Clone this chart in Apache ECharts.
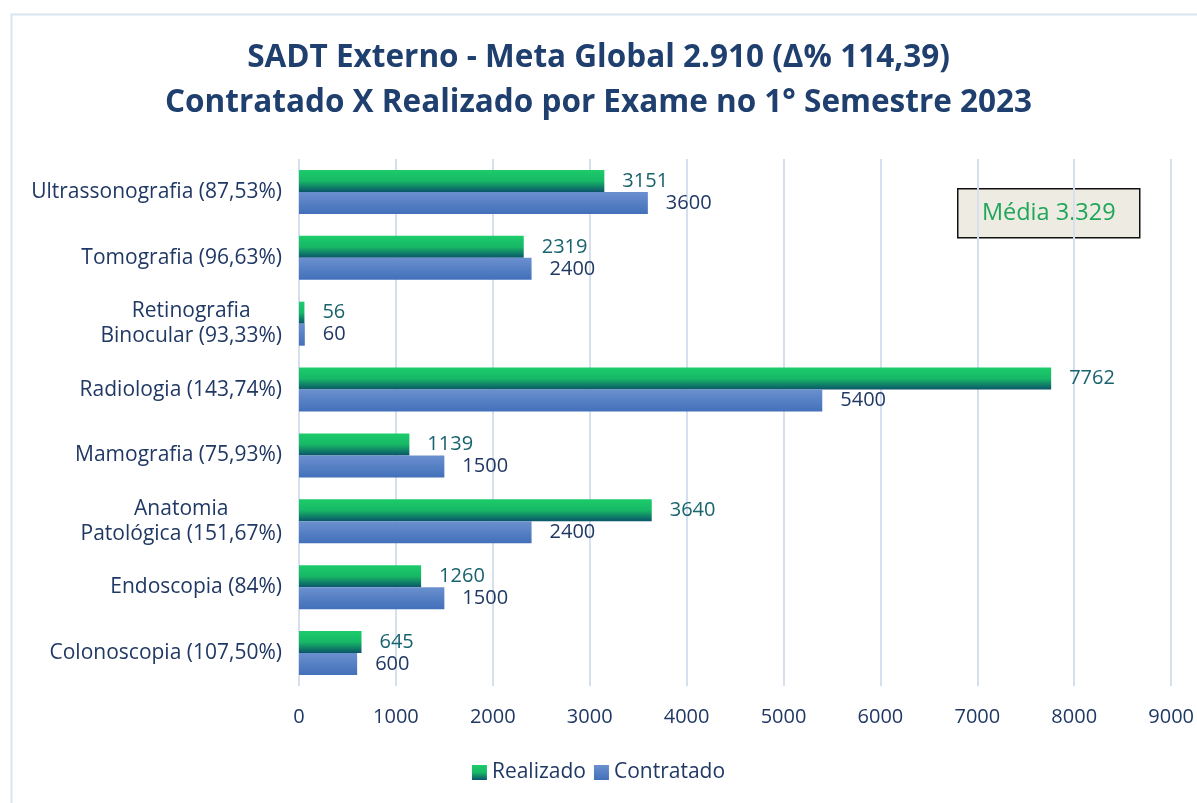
<!DOCTYPE html>
<html>
<head>
    <meta charset="utf-8">
    <title>SADT Externo</title>
    <script src="https://cdn.jsdelivr.net/npm/echarts@6/dist/echarts.min.js"></script>
    <style>
        html, body { margin: 0; padding: 0; background: #fff; }
        #chart { width: 1197px; height: 803px; }
    </style>
</head>
<body>
    <div id="chart"></div>
    <script>
    // dados
    var exames = [
        'Ultrassonografia (87,53%)',
        'Tomografia (96,63%)',
        'Retinografia\nBinocular (93,33%)',
        'Radiologia (143,74%)',
        'Mamografia (75,93%)',
        'Anatomia\nPatológica (151,67%)',
        'Endoscopia (84%)',
        'Colonoscopia (107,50%)'
    ];
    var realizado = [3151, 2319, 56, 7762, 1139, 3640, 1260, 645];
    var contratado = [3600, 2400, 60, 5400, 1500, 2400, 1500, 600];
    var xTicks = [0, 1000, 2000, 3000, 4000, 5000, 6000, 7000, 8000, 9000];

    var font = '"Open Sans"';
    var navy = '#203864';

    var chart = echarts.init(document.getElementById('chart'));
    chart.setOption({
        backgroundColor: '#fff',
        animation: false,
        title: {
            text: 'SADT Externo - Meta Global 2.910 (Δ% 114,39)\nContratado X Realizado por Exame no 1° Semestre 2023',
            left: 'center',
            top: 31,
            textStyle: {
                fontFamily: font,
                fontWeight: 'bold',
                fontSize: 31.5,
                lineHeight: 45,
                color: '#1f3f6e'
            }
        },
        legend: {
            bottom: 15,
            left: 'center',
            itemWidth: 15,
            itemHeight: 15,
            itemGap: 8,
            icon: 'rect',
            textStyle: { fontFamily: font, fontSize: 21, color: navy },
            data: ['Realizado', 'Contratado']
        },
        grid: { left: 299, right: 25, top: 159, bottom: 117, containLabel: false },
        xAxis: {
            type: 'value',
            min: xTicks[0],
            max: xTicks[xTicks.length - 1],
            interval: 1000,
            axisLine: { show: false },
            axisTick: { show: false },
            splitLine: { lineStyle: { color: '#d5dfee', width: 2 } },
            axisLabel: {
                fontFamily: font, fontSize: 20, color: navy, margin: 21,
                formatter: function (v) { return String(v); }
            }
        },
        yAxis: {
            type: 'category',
            inverse: true,
            data: exames,
            axisLine: { show: false },
            axisTick: { show: false },
            axisLabel: {
                margin: 17,
                formatter: function (v) {
                    return v.split('\n').map(function (s) { return '{c|' + s + '}'; }).join('\n');
                },
                rich: {
                    c: { align: 'center', fontFamily: font, fontSize: 21, lineHeight: 25, color: navy }
                }
            }
        },
        series: [
            {
                name: 'Realizado',
                type: 'bar',
                data: realizado,
                barWidth: 22,
                barGap: '0%',
                itemStyle: {
                    color: new echarts.graphic.LinearGradient(0, 0, 0, 1, [
                        { offset: 0, color: '#1ccc6a' },
                        { offset: 0.5, color: '#17b866' },
                        { offset: 1, color: '#0a5468' }
                    ])
                },
                label: {
                    show: true,
                    position: 'right',
                    distance: 18,
                    fontFamily: font,
                    fontSize: 20,
                    color: '#19636e'
                }
            },
            {
                name: 'Contratado',
                type: 'bar',
                data: contratado,
                barWidth: 22,
                barGap: '0%',
                itemStyle: {
                    color: new echarts.graphic.LinearGradient(0, 0, 0, 1, [
                        { offset: 0, color: '#6b90cf' },
                        { offset: 1, color: '#4270b9' }
                    ])
                },
                label: {
                    show: true,
                    position: 'right',
                    distance: 18,
                    fontFamily: font,
                    fontSize: 20,
                    color: navy
                }
            }
        ],
        graphic: [
            {
                type: 'rect',
                left: 9, top: 12,
                shape: { width: 1300, height: 900 },
                style: { fill: 'none', stroke: '#dae3f0', lineWidth: 2 },
                silent: true
            },
            {
                type: 'group',
                left: 957, top: 188,
                children: [
                    {
                        type: 'rect',
                        shape: { width: 182, height: 49 },
                        style: { fill: '#eeece2', stroke: '#111', lineWidth: 1.5 }
                    },
                    {
                        type: 'text',
                        x: 91, y: 25,
                        style: {
                            text: 'Média 3.329',
                            fontFamily: font, fontSize: 23.5, fill: '#1fa65a',
                            align: 'center', verticalAlign: 'middle'
                        }
                    }
                ]
            }
        ]
    });
    </script>
</body>
</html>
